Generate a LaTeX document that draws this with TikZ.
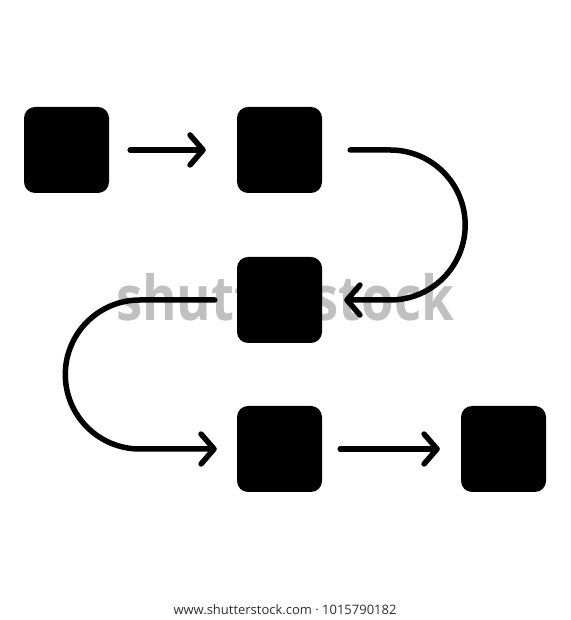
\documentclass[tikz,border=0pt]{standalone}
\usepackage{fontspec}
\setmainfont{Open Sans}
\usetikzlibrary{arrows.meta}
\definecolor{wmgray}{RGB}{192,192,192}
\definecolor{capgray}{RGB}{45,45,45}
\newcommand*{\wmstyle}{\fontsize{62}{62}\selectfont\bfseries\color{wmgray}}

\begin{document}
\begin{tikzpicture}[x=1pt, y=1pt,
   box/.style  = {fill=black, rounded corners=11pt, minimum width=85pt,
                  minimum height=86pt, inner sep=0pt},
   flow/.style = {line width=5.5pt, line cap=round, line join=round,
                  -{Straight Barb[length=13pt, width=30pt, round]}}]

   \useasboundingbox (0,0) rectangle (570,620);

   % watermark behind everything
   \node [xscale=0.85, transform shape] (wm) at (285,323) {\wmstyle shutterstock};

   \node [box] (b1) at (66.5,470) {};
   \node [box] (b2) at (279.5,470) {};
   \node [box] (b3) at (279.5,320) {};
   \node [box] (b4) at (279.5,171) {};
   \node [box] (b5) at (503.5,171) {};

   \draw [flow] ([xshift=21pt]b1.east) -- ([xshift=-31pt]b2.west);
   \draw [flow] ([xshift=28pt]b2.east) -- ++(40,0)
      arc [start angle=90, end angle=-90, radius=75]
      -- ([xshift=22pt]b3.east);
   \draw [flow] ([xshift=-22pt]b3.west) -- ++(-75,0)
      arc [start angle=90, end angle=270, radius=74.5]
      -- ([xshift=-20pt]b4.west);
   \draw [flow] ([xshift=18pt]b4.east) -- ([xshift=-21pt]b5.west);

   \node [font=\fontsize{13}{13}\selectfont, text=capgray] (credit) at (285,10)
      {www.shutterstock.com · 1015790182};

\end{tikzpicture}
\end{document}
